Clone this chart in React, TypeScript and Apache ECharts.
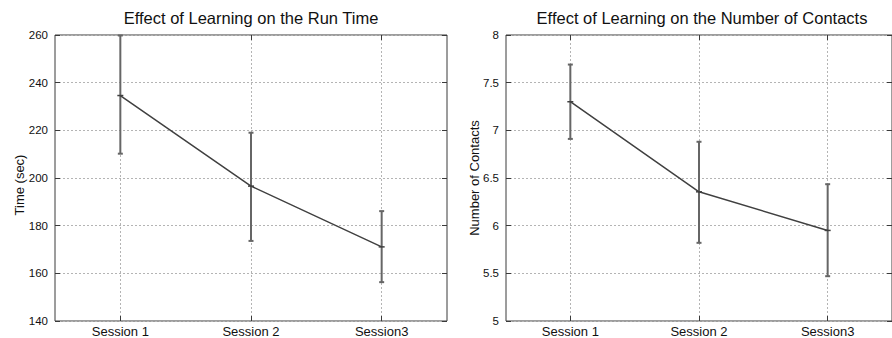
import React, { useEffect, useRef } from "react";
import * as echarts from "echarts";

const sessions = ["Session 1", "Session 2", "Session3"];

const timeMean = [234.6, 196.6, 171.1];
const timeLow = [210.2, 173.6, 156.3];
const timeHigh = [259.8, 219.0, 186.1];
const timeTicks = { min: 140, max: 260, interval: 20 };

const contactMean = [7.3, 6.355, 5.95];
const contactLow = [6.91, 5.82, 5.47];
const contactHigh = [7.69, 6.88, 6.435];
const contactTicks = { min: 5, max: 8, interval: 0.5 };

const FONT = "Liberation Sans, Arial, Helvetica, sans-serif";
const FRAME = "#3a3a3a";
const LINE = "#404040";
const ERR = "#666666";
const GRID = "#b4b4b4";

function errorRender(params: any, api: any) {
  const x = api.value(0);
  const lo = api.value(1);
  const hi = api.value(2);
  const pHi = api.coord([x, hi]);
  const pLo = api.coord([x, lo]);
  const w = 2.5;
  const style = { stroke: ERR, lineWidth: 2 };
  return {
    type: "group",
    children: [
      { type: "line", shape: { x1: pHi[0], y1: pHi[1], x2: pLo[0], y2: pLo[1] }, style },
      { type: "line", shape: { x1: pHi[0] - w, y1: pHi[1], x2: pHi[0] + w, y2: pHi[1] }, style },
      { type: "line", shape: { x1: pLo[0] - w, y1: pLo[1], x2: pLo[0] + w, y2: pLo[1] }, style },
    ],
  };
}

function xAxes(gridIndex: number) {
  const base = {
    type: "category",
    data: sessions,
    gridIndex,
    boundaryGap: true,
    axisLine: { show: false },
    axisTick: { show: true, inside: true, length: 5, alignWithLabel: true, lineStyle: { color: FRAME, width: 1 } },
  };
  return [
    {
      ...base,
      position: "bottom",
      axisLabel: { color: "#111", fontSize: 13, fontFamily: FONT, margin: 4 },
      splitLine: { show: true, alignWithLabel: true, lineStyle: { color: GRID, type: [2, 2], width: 1 } },
    },
    {
      ...base,
      position: "top",
      axisLabel: { show: false },
      splitLine: { show: false },
    },
  ];
}

function yAxes(gridIndex: number, t: { min: number; max: number; interval: number }) {
  const base = {
    type: "value",
    gridIndex,
    min: t.min,
    max: t.max,
    interval: t.interval,
    axisLine: { show: false },
    axisTick: { show: true, inside: true, length: 5, lineStyle: { color: FRAME, width: 1 } },
  };
  return [
    {
      ...base,
      position: "left",
      axisLabel: { color: "#111", fontSize: 11.5, fontFamily: FONT, margin: 7 },
      splitLine: { show: true, lineStyle: { color: GRID, type: [2, 2], width: 1 } },
    },
    {
      ...base,
      position: "right",
      axisLabel: { show: false },
      splitLine: { show: false },
    },
  ];
}

function seriesFor(idx: number, mean: number[], low: number[], high: number[]) {
  const xi = idx * 2;
  const yi = idx * 2;
  return [
    {
      type: "custom",
      xAxisIndex: xi,
      yAxisIndex: yi,
      renderItem: errorRender,
      encode: { x: 0, y: [1, 2] },
      data: sessions.map((_, i) => [i, low[i], high[i]]),
      z: 2,
      clip: false,
    },
    {
      type: "line",
      xAxisIndex: xi,
      yAxisIndex: yi,
      data: mean,
      symbol: "rect",
      symbolSize: [6, 1.5],
      itemStyle: { color: LINE },
      lineStyle: { color: LINE, width: 1.5 },
      z: 3,
    },
  ];
}

export default function App() {
  const ref = useRef<HTMLDivElement>(null);
  useEffect(() => {
    if (!ref.current) return;
    const chart = echarts.init(ref.current, undefined, { renderer: "svg" });
    chart.setOption({
      animation: false,
      backgroundColor: "#ffffff",
      textStyle: { fontFamily: FONT },
      grid: [
        { left: 55, top: 35, width: 392, height: 287, show: true, borderColor: FRAME, borderWidth: 1, backgroundColor: "transparent" },
        { left: 506, top: 35, width: 395, height: 287, show: true, borderColor: FRAME, borderWidth: 1, backgroundColor: "transparent" },
      ],
      xAxis: [...xAxes(0), ...xAxes(1)],
      yAxis: [...yAxes(0, timeTicks), ...yAxes(1, contactTicks)],
      series: [
        ...seriesFor(0, timeMean, timeLow, timeHigh),
        ...seriesFor(1, contactMean, contactLow, contactHigh),
      ],
      graphic: [
        {
          type: "text",
          x: 251,
          y: 18,
          style: { text: "Effect of Learning on the Run Time", fill: "#111", font: `16.5px ${FONT}`, align: "center", verticalAlign: "middle" },
        },
        {
          type: "text",
          x: 702,
          y: 18,
          style: { text: "Effect of Learning on the Number of Contacts", fill: "#111", font: `16.5px ${FONT}`, align: "center", verticalAlign: "middle" },
        },
        {
          type: "text",
          x: 19,
          y: 185,
          rotation: Math.PI / 2,
          style: { text: "Time (sec)", fill: "#111", font: `13px ${FONT}`, align: "center", verticalAlign: "middle" },
        },
        {
          type: "text",
          x: 474,
          y: 178,
          rotation: Math.PI / 2,
          style: { text: "Number of Contacts", fill: "#111", font: `13px ${FONT}`, align: "center", verticalAlign: "middle" },
        },
      ],
    });
    return () => chart.dispose();
  }, []);
  return (
    <div
      ref={ref}
      style={{ position: "fixed", left: 0, top: 0, width: 892, height: 338, background: "#fff" }}
    />
  );
}
